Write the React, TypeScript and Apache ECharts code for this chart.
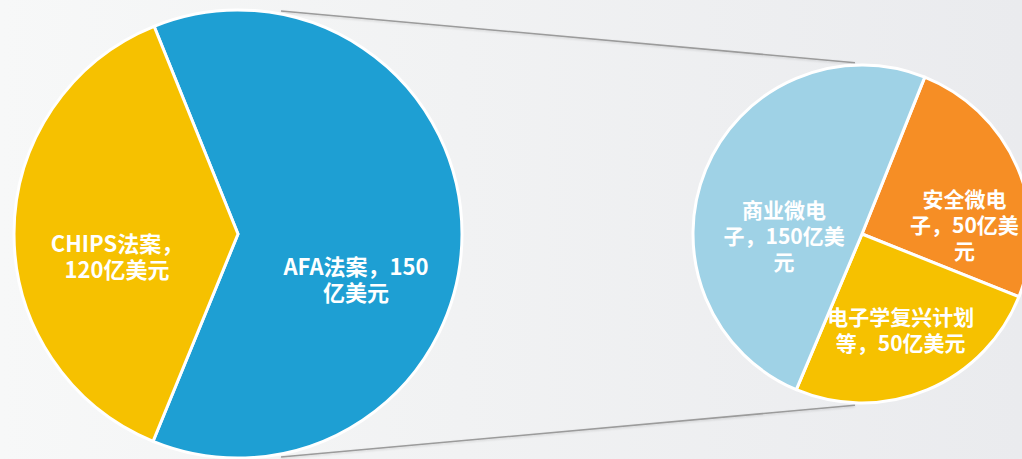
import React, { useEffect, useRef } from "react";
import * as echarts from "echarts";

// Left pie (share of circle) and its labels
const leftNames = ["AFA法案，150\n亿美元", "CHIPS法案，\n120亿美元"];
const leftValues = [62.3, 37.7];
const leftColors = ["#1e9fd3", "#f6c100"];

// Right pie
const rightNames = ["安全微电\n子，50亿美\n元", "电子学复兴计划\n等，50亿美元", "商业微电\n子，150亿美\n元"];
const rightValues = [25, 25.3, 49.7];
const rightColors = ["#f68e25", "#f6c100", "#9fd2e6"];

// label nudges (style only)
const leftLabelShift = [[3, 44], [-6, 21]];
const rightLabelShift = [[22, 24], [5, 14], [3, 34]];

const W = 1022;
const H = 459;
const C1 = [238, 234];
const R1 = 224;
const C2 = [862, 234];
const R2 = 169;

export default function App() {
  const ref = useRef<HTMLDivElement>(null);
  useEffect(() => {
    if (!ref.current) return;
    const chart = echarts.init(ref.current, null, { renderer: "svg" });

    // external tangent lines between the two circles
    const r1 = R1 + 2;
    const r2 = R2 + 1;
    const d = C2[0] - C1[0];
    const nx = (r1 - r2) / d;
    const ny = Math.sqrt(1 - nx * nx);
    const mk = (sgn: number) => {
      const t1 = [C1[0] + r1 * nx, C1[1] - sgn * r1 * ny];
      const t2 = [C2[0] + r2 * nx, C2[1] - sgn * r2 * ny];
      const slope = (t2[1] - t1[1]) / (t2[0] - t1[0]);
      const xa = 281;
      const xb = 855;
      return {
        type: "line",
        silent: true,
        z: -1,
        shape: {
          x1: xa,
          y1: t1[1] + (xa - t1[0]) * slope,
          x2: xb,
          y2: t1[1] + (xb - t1[0]) * slope,
        },
        style: { stroke: "#9b9b9b", lineWidth: 1.6, shadowBlur: 2, shadowColor: "rgba(0,0,0,0.15)", shadowOffsetY: 1 },
      };
    };

    const mkLabel = (size: number) => ({
      show: true,
      position: "inside",
      color: "#ffffff",
      fontFamily: "'Noto Sans CJK SC', 'Noto Sans', sans-serif",
      fontWeight: "bold",
      fontSize: size,
      lineHeight: 26,
      formatter: (p: any) => p.name,
    });

    chart.setOption({
      animation: false,
      backgroundColor: "transparent",
      graphic: [mk(1), mk(-1)],
      series: [
        {
          type: "pie",
          center: C1,
          radius: R1,
          startAngle: 112,
          clockwise: true,
          avoidLabelOverlap: false,
          itemStyle: { borderColor: "#ffffff", borderWidth: 3 },
          label: mkLabel(22),
          labelLine: { show: false },
          emphasis: { disabled: true },
          labelLayout: (p: any) => ({ dx: leftLabelShift[p.dataIndex][0], dy: leftLabelShift[p.dataIndex][1] }),
          data: leftNames.map((n, i) => ({ name: n, value: leftValues[i], itemStyle: { color: leftColors[i] } })),
        },
        {
          type: "pie",
          center: C2,
          radius: R2,
          startAngle: 68.2,
          clockwise: true,
          avoidLabelOverlap: false,
          itemStyle: { borderColor: "#ffffff", borderWidth: 3 },
          label: mkLabel(21),
          labelLine: { show: false },
          emphasis: { disabled: true },
          labelLayout: (p: any) => ({ dx: rightLabelShift[p.dataIndex][0], dy: rightLabelShift[p.dataIndex][1] }),
          data: rightNames.map((n, i) => ({ name: n, value: rightValues[i], itemStyle: { color: rightColors[i] } })),
        },
      ],
    });
    return () => chart.dispose();
  }, []);

  return (
    <div
      style={{
        position: "absolute",
        left: 0,
        top: 0,
        width: W,
        height: H,
        overflow: "hidden",
        background: "linear-gradient(90deg, #f7f8f8 0%, #f1f2f3 45%, #eaebee 100%)",
      }}
    >
      <div ref={ref} style={{ width: W, height: H }} />
    </div>
  );
}
